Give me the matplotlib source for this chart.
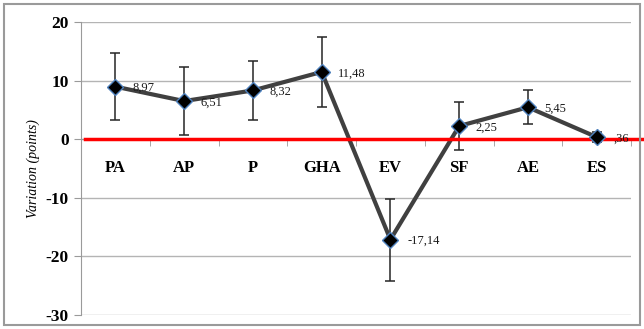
import numpy as np
import matplotlib.pyplot as plt
import matplotlib.patches as mpatches

# categories and mean variation with error bar half-widths
categories = ['PA', 'AP', 'P', 'GHA', 'EV', 'SF', 'AE', 'ES']
variation = [8.97, 6.51, 8.32, 11.48, -17.14, 2.25, 5.45, 0.36]
erreur = [5.7, 5.8, 5.0, 5.9, 7.0, 4.1, 2.9, 0.9]
etiquettes = ['8,97', '6,51', '8,32', '11,48', '-17,14', '2,25', '5,45', ',36']

plt.rcParams['font.family'] = ['Liberation Serif', 'DejaVu Serif']
plt.rcParams['axes.unicode_minus'] = False

fig = plt.figure(figsize=(6.44, 3.29), dpi=100)
ax = fig.add_axes([0.1258, 0.0426, 0.8541, 0.8905])

x = np.arange(len(categories))

# gridlines
ax.set_ylim(-30, 20)
ax.set_xlim(-0.5, len(categories) - 0.5)
ax.set_yticks([20, 10, 0, -10, -20, -30])
ax.yaxis.grid(True, color='#b4b4b4', linewidth=1)
ax.set_axisbelow(True)

# courbe + barres d'erreur
ax.errorbar(x, variation, yerr=erreur, fmt='none', ecolor='#262626',
            elinewidth=1.1, capsize=3.5, capthick=1.1, zorder=3)
ax.plot(x, variation, color='#404040', linewidth=3, zorder=4)

# ligne rouge a zero
ax.axhline(0, xmin=0.007, xmax=1.03, color='#ff0000', linewidth=2.5,
           clip_on=False, zorder=5)

ax.plot(x, variation, linestyle='none', marker='D', markersize=8,
        markerfacecolor='black', markeredgecolor='#4f81bd',
        markeredgewidth=1, zorder=6)

for xi, yi, txt in zip(x, variation, etiquettes):
    ax.annotate(txt, (xi, yi), xytext=(12, -1), textcoords='offset points',
                ha='left', va='center', fontsize=9, color='#1a1a1a', zorder=7)

# axes
for s in ['top', 'right']:
    ax.spines[s].set_visible(False)
ax.spines['left'].set_color('#9a9a9a')
ax.spines['bottom'].set_position(('data', 0))
ax.spines['bottom'].set_color('#9a9a9a')

ax.set_xticks(x)
ax.set_xticklabels(categories, fontsize=12, fontweight='bold')
ax.set_xticks(np.arange(len(categories) + 1) - 0.5, minor=True)
ax.tick_params(axis='x', which='major', length=0, pad=15)
ax.tick_params(axis='x', which='minor', length=5, color='#9a9a9a', direction='out')
ax.tick_params(axis='y', length=5, color='#9a9a9a', pad=4)
for lab in ax.get_yticklabels():
    lab.set_fontsize(12.5)
    lab.set_fontweight('bold')

ax.set_ylabel('Variation (points)', fontsize=10, fontstyle='italic', labelpad=4)

# cadre exterieur
cadre = mpatches.Rectangle((0.006, 0.012), 0.988, 0.976, transform=fig.transFigure,
                           fill=False, edgecolor='#9a9a9a', linewidth=1.5)
fig.patches.append(cadre)

fig.savefig('out.png', dpi=100)
